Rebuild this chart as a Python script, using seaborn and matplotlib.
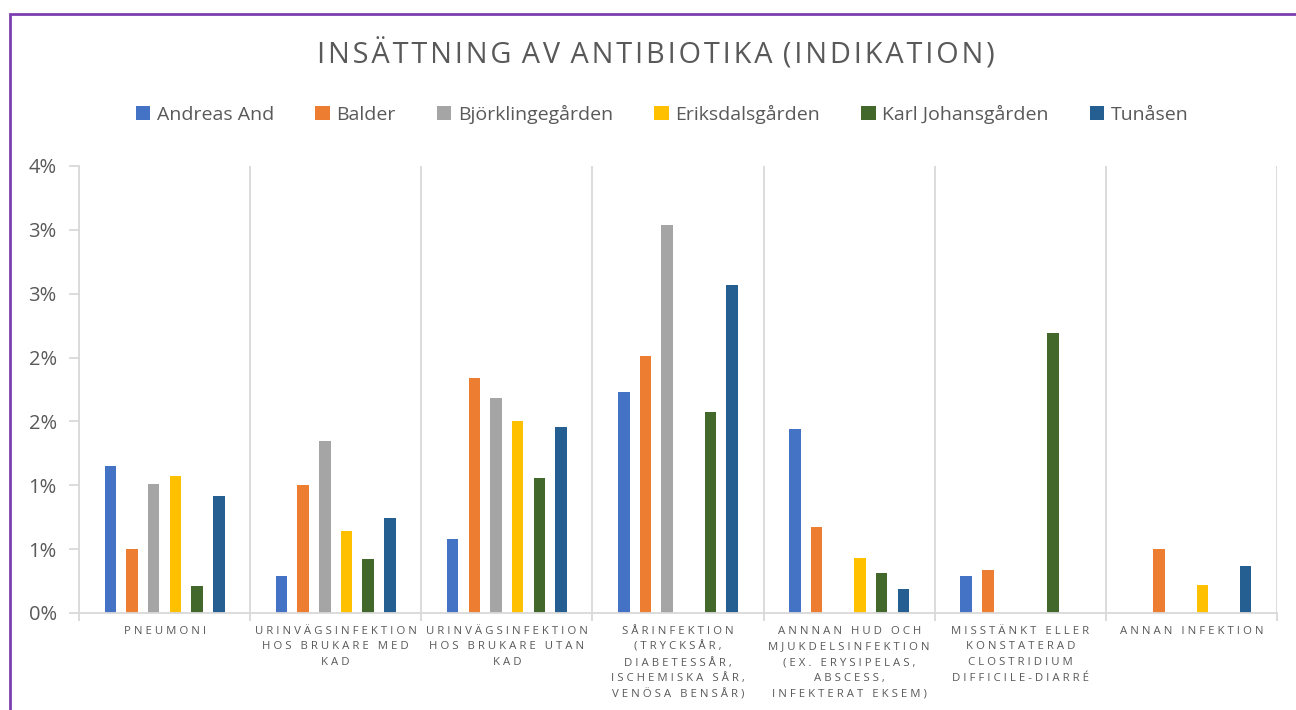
import numpy as np
import pandas as pd
import matplotlib
matplotlib.use("Agg")
import matplotlib.pyplot as plt
import seaborn as sns
from matplotlib.patches import Patch
from matplotlib.ticker import FuncFormatter, FixedLocator

# Andel insättningar per indikation (procent)
kategorier = [
    "Pneumoni",
    "Urinvägsinfektion hos brukare med KAD",
    "Urinvägsinfektion hos brukare utan KAD",
    "Sårinfektion",
    "Annnan hud och mjukdelsinfektion",
    "Misstänkt eller konstaterad Clostridium difficile-diarré",
    "Annan infektion",
]
kategori_etiketter = [
    "PNEUMONI",
    "URINVÄGSINFEKTION\nHOS BRUKARE MED\nKAD",
    "URINVÄGSINFEKTION\nHOS BRUKARE UTAN\nKAD",
    "SÅRINFEKTION\n(TRYCKSÅR,\nDIABETESSÅR,\nISCHEMISKA SÅR,\nVENÖSA BENSÅR)",
    "ANNNAN HUD OCH\nMJUKDELSINFEKTION\n(EX. ERYSIPELAS,\nABSCESS,\nINFEKTERAT EKSEM)",
    "MISSTÄNKT ELLER\nKONSTATERAD\nCLOSTRIDIUM\nDIFFICILE-DIARRÉ",
    "ANNAN INFEKTION",
]
enheter = ["Andreas And", "Balder", "Björklingegården", "Eriksdalsgården",
           "Karl Johansgården", "Tunåsen"]

andreas_and = [1.15, 0.29, 0.58, 1.73, 1.44, 0.29, np.nan]
balder = [0.50, 1.00, 1.84, 2.01, 0.67, 0.34, 0.50]
bjorklingegarden = [1.01, 1.35, 1.68, 3.04, np.nan, np.nan, np.nan]
eriksdalsgarden = [1.07, 0.64, 1.50, np.nan, 0.43, np.nan, 0.22]
karl_johansgarden = [0.21, 0.42, 1.06, 1.57, 0.31, 2.19, np.nan]
tunasen = [0.92, 0.74, 1.46, 2.57, 0.19, np.nan, 0.37]

farger = ["#4472C4", "#ED7D31", "#A5A5A5", "#FFC000", "#43682B", "#255E91"]
grå_text = "#595959"
grå_linje = "#D9D9D9"

serier = [andreas_and, balder, bjorklingegarden, eriksdalsgarden,
          karl_johansgarden, tunasen]
rader = []
for enhet, värden in zip(enheter, serier):
    for kat, v in zip(kategorier, värden):
        rader.append({"kategori": kat, "enhet": enhet, "andel": v})
df = pd.DataFrame(rader)


def spärra(text, mellan=" ", ord_mellan="   "):
    # Excel-liknande teckenspärrning
    rader_ut = []
    for rad in text.split("\n"):
        rader_ut.append(ord_mellan.join(mellan.join(o) for o in rad.split(" ")))
    return "\n".join(rader_ut)


sns.set_theme(style="white")
plt.rcParams["font.family"] = ["Open Sans", "DejaVu Sans"]

fig = plt.figure(figsize=(12.96, 7.1), dpi=100)
ax = fig.add_axes([79 / 1296, 97 / 710, 1198 / 1296, 447 / 710])

sns.barplot(data=df, x="kategori", y="andel", hue="enhet", order=kategorier,
            hue_order=enheter, palette=farger, saturation=1, width=0.76,
            gap=0.47, errorbar=None, linewidth=0, legend=False, ax=ax)

ax.set_xlim(-0.5, 6.5)
ax.set_ylim(0, 3.5)
ax.set_yticks(np.arange(0, 3.51, 0.5))
ax.yaxis.set_major_formatter(FuncFormatter(lambda v, p: f"{int(np.floor(v + 0.5 + 1e-9))}%"))
ax.tick_params(axis="y", length=7, width=1.3, color=grå_linje, pad=9,
               labelsize=14.5, labelcolor=grå_text, left=True)

ax.set_xticks(range(len(kategorier)))
ax.set_xticklabels([spärra(t) for t in kategori_etiketter], fontsize=8.2,
                   color=grå_text, linespacing=1.6, va="top")
ax.xaxis.set_minor_locator(FixedLocator(np.arange(-0.5, 6.6, 1)))
ax.tick_params(axis="x", which="major", length=0, pad=9)
ax.tick_params(axis="x", which="minor", length=6, width=1.3, color=grå_linje,
               bottom=True)
ax.grid(axis="x", which="minor", color=grå_linje, linewidth=1.3)
ax.grid(axis="x", which="major", visible=False)
ax.grid(axis="y", visible=False)
ax.set_xlabel("")
ax.set_ylabel("")
for s in ["top", "right"]:
    ax.spines[s].set_visible(False)
for s in ["left", "bottom"]:
    ax.spines[s].set_color(grå_linje)
    ax.spines[s].set_linewidth(1.3)

fig.text(0.506, 1 - 64 / 710,
         spärra("INSÄTTNING AV ANTIBIOTIKA (INDIKATION)", "\u200a", " \u200a"),
         ha="center", va="baseline", fontsize=20.8, color=grå_text)

handtag = [Patch(facecolor=f, edgecolor="none") for f in farger]
fig.legend(handtag, enheter, loc="center", bbox_to_anchor=(0.511, 1 - 114 / 710),
           ncol=6, frameon=False, fontsize=14, labelcolor=grå_text,
           handlelength=0.75, handleheight=0.75, handletextpad=0.35,
           columnspacing=2.1)

# lila ram runt diagramytan
ram = plt.Rectangle((9.5 / 1296, -0.2), 1.2, 1.2 - 13.5 / 710, transform=fig.transFigure,
                    fill=False, edgecolor="#7B3FB0", linewidth=2, clip_on=False)
fig.patches.append(ram)

fig.savefig("out.png", dpi=100)
